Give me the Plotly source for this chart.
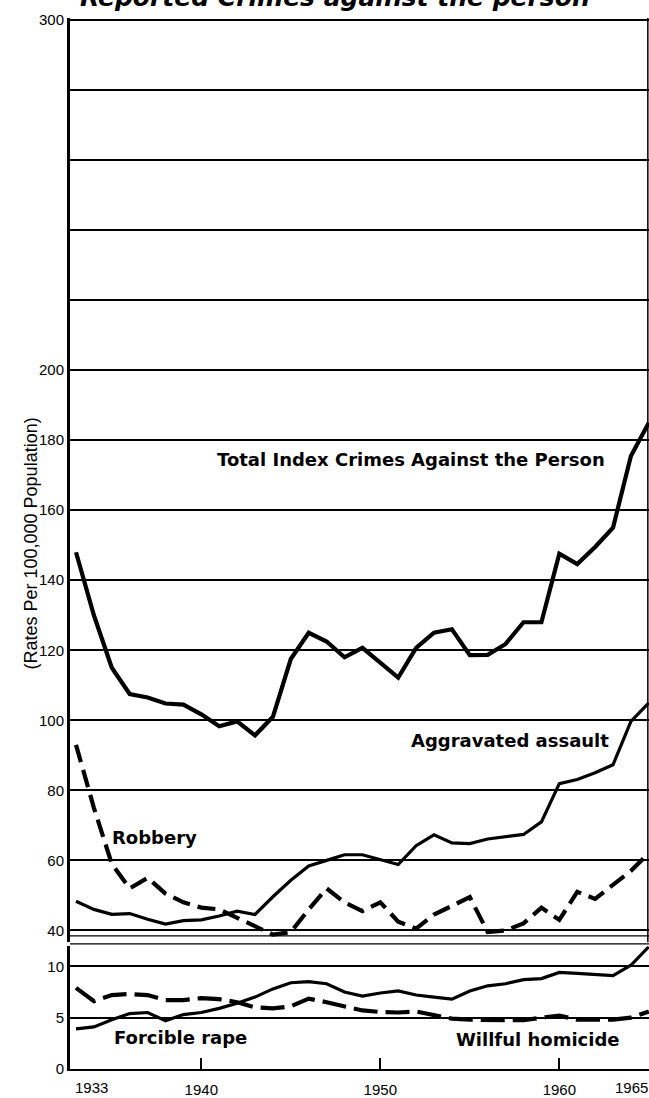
import plotly.graph_objects as go

# Reported crimes against the person, rates per 100,000 population
years = list(range(1933, 1966))

total_person = [148, 130, 115, 107.5, 106.5, 104.8, 104.5, 101.7, 98.3, 99.7,
                95.7, 101, 117.5, 125, 122.5, 118, 120.7, 116.4, 112.2, 120.7,
                125, 126, 118.6, 118.7, 121.8, 128, 128, 147.6, 144.6, 149.5,
                155, 175.5, 185]
aggravated_assault = [48.3, 46, 44.6, 44.8, 43.2, 41.8, 42.8, 43, 44.1, 45.5,
                      44.5, 49.6, 54.3, 58.4, 60, 61.6, 61.6, 60.3, 58.8, 64.2,
                      67.3, 65, 64.8, 66.1, 66.8, 67.4, 71, 81.9, 83.1, 85,
                      87.3, 99.7, 105]
robbery = [93, 75, 59, 52, 55, 50.5, 48, 46.5, 46, 43.5,
           41, 38.8, 39.5, 46, 52, 48, 45.5, 48, 42.5, 40.5,
           44.5, 47, 49.5, 39.5, 40, 42, 46.5, 43, 51, 49,
           53, 57, 62]
forcible_rape = [3.9, 4.1, 4.8, 5.4, 5.5, 4.7, 5.3, 5.5, 5.9, 6.4,
                 7.0, 7.8, 8.4, 8.5, 8.3, 7.5, 7.1, 7.4, 7.6, 7.2,
                 7.0, 6.8, 7.6, 8.1, 8.3, 8.7, 8.8, 9.4, 9.3, 9.2,
                 9.1, 10.1, 11.9]
willful_homicide = [7.9, 6.6, 7.2, 7.3, 7.2, 6.7, 6.7, 6.9, 6.8, 6.5,
                    6.0, 5.9, 6.1, 6.85, 6.5, 6.1, 5.7, 5.55, 5.5, 5.6,
                    5.3, 4.9, 4.8, 4.8, 4.8, 4.75, 5.0, 5.2, 4.8, 4.75,
                    4.8, 5.0, 5.6]

# axis ticks
upper_ticks = list(range(40, 301, 20))
upper_labels = [str(v) if v <= 200 or v == 300 else "" for v in upper_ticks]
lower_ticks = [0, 5, 10]
x_ticks = [1940, 1950, 1960]

W, H = 649, 1098
ML, MR, MT, MB = 70, 0, 18, 26
plot_h = H - MT - MB


def py(px):
    # pixel row -> paper fraction
    return (H - MB - px) / plot_h


XR = [1932.665, 1965.01]
black = "black"
tick_font = dict(family="Liberation Sans, Arial, sans-serif", size=15, color=black)
lab_font = dict(family="DejaVu Sans, sans-serif", size=18, color=black)

fig = go.Figure()

fig.add_trace(go.Scatter(x=years, y=total_person, mode="lines", name="Total",
                         line=dict(color=black, width=4.2), xaxis="x", yaxis="y"))
fig.add_trace(go.Scatter(x=years, y=aggravated_assault, mode="lines", name="Aggravated assault",
                         line=dict(color=black, width=3.2), xaxis="x", yaxis="y"))
fig.add_trace(go.Scatter(x=years, y=robbery, mode="lines", name="Robbery",
                         line=dict(color=black, width=4.2, dash="18px,8px"), xaxis="x", yaxis="y"))
fig.add_trace(go.Scatter(x=years, y=forcible_rape, mode="lines", name="Forcible rape",
                         line=dict(color=black, width=3.2), xaxis="x2", yaxis="y2"))
fig.add_trace(go.Scatter(x=years, y=willful_homicide, mode="lines", name="Willful homicide",
                         line=dict(color=black, width=4.2, dash="24px,8px"), xaxis="x2", yaxis="y2"))

fig.update_layout(
    width=W, height=H,
    margin=dict(l=ML, r=MR, t=MT, b=MB),
    paper_bgcolor="white", plot_bgcolor="white",
    showlegend=False,
    font=tick_font,
    xaxis=dict(domain=[0, 1], anchor="y", range=XR, showticklabels=False, showgrid=False,
               zeroline=False, showline=False, ticks=""),
    yaxis=dict(domain=[py(945), 1], anchor="x", range=[36.58, 300.57],
               tickvals=upper_ticks, ticktext=upper_labels, ticks="",
               showgrid=True, gridcolor=black, gridwidth=1.7, zeroline=False,
               showline=True, linecolor=black, linewidth=3, tickfont=tick_font),
    xaxis2=dict(domain=[0, 1], anchor="y2", range=XR, tickvals=x_ticks,
                ticktext=[str(v) for v in x_ticks], ticks="inside", ticklen=11, tickwidth=2,
                tickcolor=black, showgrid=False, zeroline=False, showline=True,
                linecolor=black, linewidth=2, tickfont=tick_font, ticklabelstandoff=6),
    yaxis2=dict(domain=[0, py(949)], anchor="x2", range=[0, 11.94],
                tickvals=lower_ticks, ticktext=[str(v) for v in lower_ticks], ticks="",
                showgrid=True, gridcolor=black, gridwidth=1.7, zeroline=False,
                showline=True, linecolor=black, linewidth=3, tickfont=tick_font),
)

# scale-break lines between the two panels and the right frame
for row in (938.5, 946.5):
    fig.add_shape(type="line", xref="paper", yref="paper", x0=0, x1=1, y0=py(row), y1=py(row),
                  line=dict(color=black, width=1.3))
fig.add_shape(type="line", xref="paper", yref="paper", x0=0.998, x1=0.998, y0=py(945), y1=1,
              line=dict(color=black, width=1.5))

# series labels
labels = [
    ("Total Index Crimes Against the Person", 1951.74, 174.4, "x", "y"),
    ("Aggravated assault", 1957.22, 94.1, "x", "y"),
    ("Robbery", 1937.41, 66.5, "x", "y"),
    ("Forcible rape", 1938.81, 3.1, "x2", "y2"),
    ("Willful homicide", 1958.81, 2.9, "x2", "y2"),
]
for text, lx, ly, xr, yr in labels:
    fig.add_annotation(text="<b>" + text + "</b>", x=lx, y=ly, xref=xr, yref=yr,
                       showarrow=False, font=lab_font, xanchor="center", yanchor="middle")

# end-year labels on the time axis
fig.add_annotation(text="1933", x=1933.84, xref="x2", y=0, yref="paper", yshift=-18,
                   showarrow=False, font=tick_font, yanchor="middle")
fig.add_annotation(text="1965", x=1964.06, xref="x2", y=0, yref="paper", yshift=-18,
                   showarrow=False, font=tick_font, yanchor="middle")

# vertical axis title
fig.add_annotation(text="(Rates Per 100,000 Population)", x=0, xref="paper", xshift=-52,
                   y=py(545), yref="paper", textangle=-90, showarrow=False,
                   font=dict(family="Liberation Sans, Arial, sans-serif", size=18, color=black))

# chart title (runs off the top edge, as in the source page)
fig.add_annotation(text="<b><i>Reported Crimes against the person</i></b>", x=(335 - ML) / (W - ML),
                   xref="paper", y=1, yref="paper", yshift=21, yanchor="middle",
                   showarrow=False, font=dict(family="DejaVu Sans, sans-serif", size=25, color=black))

fig.write_html("out.html", config={"displayModeBar": False},
               post_script="document.body.style.margin='0';document.body.style.overflow='hidden';")
